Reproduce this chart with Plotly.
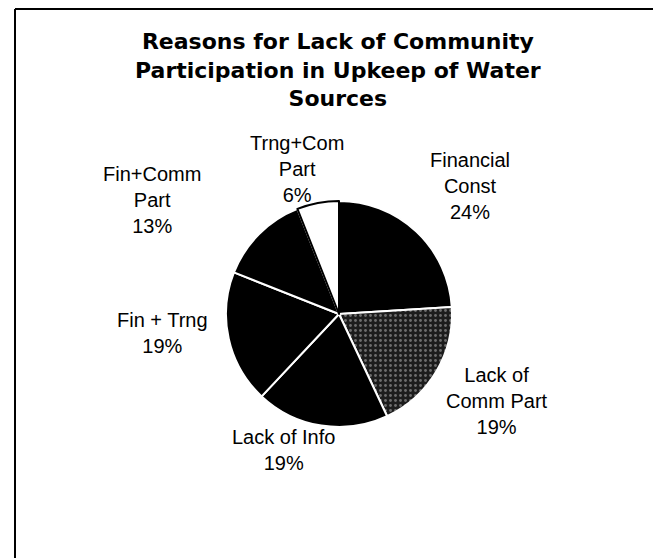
import plotly.graph_objects as go

# Data
reasons = ['Financial<br>Const', 'Lack of<br>Comm Part', 'Lack of Info',
           'Fin + Trng', 'Fin+Comm<br>Part', 'Trng+Com<br>Part']
shares = [24, 19, 19, 19, 13, 6]
slice_colors = ['black', '#1c1c1c', 'black', 'black', 'black', 'white']
slice_patterns = ['', '.', '', '', '', '']
edge_colors = ['white', 'white', 'white', 'white', 'white', 'black']

# where each label block sits (page px, from top-left)
label_pos = [(470, 186), (497, 401), (283, 450), (162, 333), (152, 200), (297, 169)]

# page body has an 8px margin, so the figure is a bit smaller than the window
PAD = 8
W, H = 661 - PAD, 558 - PAD


def px(x, y):
    return (x - PAD) / W, 1 - (y - PAD) / H


title = 'Reasons for Lack of Community<br>Participation in Upkeep of Water<br>Sources'

cx, cy = px(339, 314)
rx, ry = 113 / W, 113 / H
fig = go.Figure(go.Pie(
    labels=reasons,
    values=shares,
    sort=False,
    direction='clockwise',
    rotation=0,
    textinfo='none',
    hoverinfo='label+percent',
    marker=dict(
        colors=slice_colors,
        line=dict(color=edge_colors, width=2),
        pattern=dict(shape=slice_patterns, fillmode='overlay',
                     fgcolor='#bdbdbd', size=5, solidity=0.25),
    ),
    domain=dict(x=[cx - rx, cx + rx], y=[cy - ry, cy + ry]),
    showlegend=False,
))

total = sum(shares)
for name, val, (lx, ly) in zip(reasons, shares, label_pos):
    ax, ay = px(lx, ly)
    fig.add_annotation(
        x=ax, y=ay, xref='paper', yref='paper',
        text=f'{name}<br>{round(100 * val / total)}%',
        showarrow=False, xanchor='center', yanchor='middle', align='center',
        font=dict(family='Liberation Sans, Arial', size=20, color='black'),
    )

tx, ty = px(338, 70)
fig.add_annotation(
    x=tx, y=ty, xref='paper', yref='paper',
    text=f'<b>{title}</b>', showarrow=False,
    xanchor='center', yanchor='middle', align='center',
    font=dict(family='DejaVu Sans', size=22, color='black'),
)

# frame lines from the scan
x15, y9 = px(15, 9)
fig.add_shape(type='line', xref='paper', yref='paper',
              x0=x15, x1=x15, y0=0, y1=y9,
              line=dict(color='black', width=2))
fig.add_shape(type='line', xref='paper', yref='paper',
              x0=x15, x1=1, y0=y9, y1=y9,
              line=dict(color='black', width=2))
xr, yr = px(655, 500)
_, yb = px(655, 545)
fig.add_shape(type='line', xref='paper', yref='paper',
              x0=xr, x1=xr, y0=yb, y1=yr,
              line=dict(color='black', width=1.5))

fig.update_layout(
    width=W, height=H,
    margin=dict(l=0, r=0, t=0, b=0),
    paper_bgcolor='white',
    plot_bgcolor='white',
)

fig.write_html('out.html')
